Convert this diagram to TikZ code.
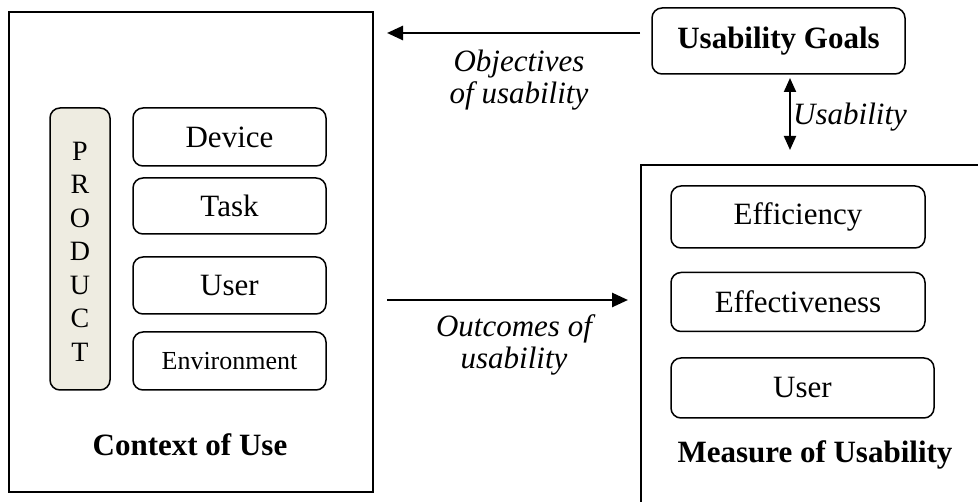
\documentclass[tikz,border=0pt]{standalone}
\usepackage{fontspec}
\setmainfont{Liberation Serif}
\usetikzlibrary{arrows.meta}
\tikzset{
  outerbox/.style={draw, line width=1.8pt},
  itembox/.style={draw, line width=1.5pt, rounded corners=10pt},
  prodbox/.style={draw, line width=1.5pt, rounded corners=10pt, fill=prodfill},
  txt/.style={inner sep=0pt, font=\fontsize{31}{32}\selectfont},
  ltxt/.style={inner sep=0pt, align=center, font=\fontsize{31}{32}\selectfont\itshape},
  bigarrow/.style={line width=2.6pt, -{Triangle[length=16pt,width=14pt]}},
  dblarrow/.style={line width=2pt, {Triangle[length=14pt,width=12pt]}-{Triangle[length=14pt,width=12pt]}}
}
\definecolor{prodfill}{HTML}{EEECE1}
\begin{document}
\begin{tikzpicture}[x=1pt,y=-1pt]
\useasboundingbox (0,0) rectangle (978,502);
\begin{scope}
\clip (0,0) rectangle (978,502);
% left container
\draw[outerbox] (9,12) rectangle (373,492);
\node[prodbox, minimum width=60pt, minimum height=282pt] (prod) at (80,249) {};
\node[inner sep=0pt, align=center, font=\fontsize{28}{33.5}\selectfont] (prodtxt) at (80,251.5) {P\\R\\O\\D\\U\\C\\T};
\node[itembox, minimum width=193pt, minimum height=58pt, txt] (device) at (229.5,137) {Device};
\node[itembox, minimum width=193pt, minimum height=56pt, txt] (task) at (229.5,206) {Task};
\node[itembox, minimum width=193pt, minimum height=57pt, txt] (user1) at (229.5,285.5) {User};
\node[itembox, minimum width=193pt, minimum height=58pt, inner sep=0pt, font=\fontsize{26}{27}\selectfont] (env) at (229.5,361) {Environment};
\node[txt, font=\fontsize{31}{32}\selectfont\bfseries] (ctx) at (190,445) {Context of Use};
% right container
\draw[outerbox] (641,165) rectangle (1000,530);
\node[itembox, minimum width=254pt, minimum height=62pt, txt] (eff) at (798,217) {Efficiency};
\node[itembox, minimum width=254pt, minimum height=59pt, txt] (effect) at (798,302) {Effectiveness};
\node[itembox, minimum width=263pt, minimum height=60pt, txt] (user2) at (802.5,388) {User};
\node[txt, font=\fontsize{31}{32}\selectfont\bfseries] (mou) at (815,455) {Measure of Usability};
% goals
\node[itembox, minimum width=253pt, minimum height=66pt, txt, font=\fontsize{31}{32}\selectfont\bfseries] (goals) at (778.5,41) {Usability Goals};
\coordinate (objend) at (387,33);
\coordinate (objstart) at (640,33);
\draw[bigarrow] (objstart) -- (objend);
\node[ltxt] (objlbl) at (519,80) {Objectives\\of usability};
\coordinate (outstart) at (387,300);
\coordinate (outend) at (628,300);
\draw[bigarrow] (outstart) -- (outend);
\node[ltxt] (outlbl) at (514,345) {Outcomes of\\usability};
\coordinate (dtop) at (790,78);
\coordinate (dbot) at (790,150);
\draw[dblarrow] (dtop) -- (dbot);
\node[txt, font=\fontsize{31}{32}\selectfont\itshape, anchor=west] (ulbl) at (793,117) {Usability};
\end{scope}
\end{tikzpicture}
\end{document}
